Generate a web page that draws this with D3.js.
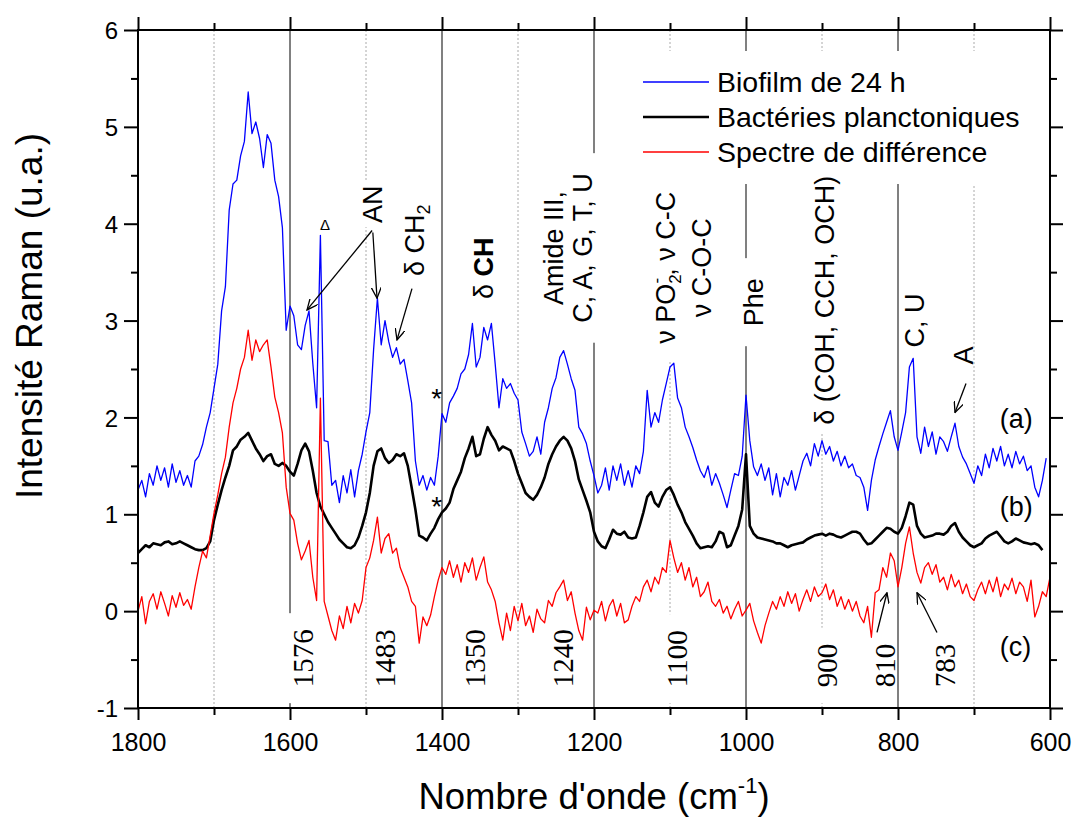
<!DOCTYPE html>
<html><head><meta charset="utf-8">
<script src="https://cdn.jsdelivr.net/npm/d3@7"></script>
<style>body{margin:0;background:#fff} svg{display:block}</style>
</head><body><svg id="chart" width="1073" height="819"></svg>
<script>
// ---------------- data ----------------
const wnStart = 1800, wnStep = 5;   // spectra sampled every 5 cm-1 from 1800 downwards
const biofilm = [
1.25,1.35,1.18,1.42,1.30,1.50,1.35,1.48,1.28,1.52,
1.33,1.45,1.30,1.40,1.28,1.55,1.60,1.72,1.90,2.05,
2.30,2.55,3.10,3.35,4.14,4.41,4.45,4.70,4.85,5.36,
4.93,5.05,4.88,4.58,4.92,4.83,4.45,4.28,3.96,2.90,
3.15,3.05,2.75,2.70,2.95,3.10,2.56,2.10,3.88,1.76,
1.75,1.30,1.35,1.12,1.40,1.22,1.46,1.18,1.45,1.62,
1.85,2.05,2.70,3.23,2.75,3.00,2.78,2.62,2.72,2.55,
2.60,2.38,2.15,1.55,1.30,1.40,1.25,1.38,1.30,1.60,
2.04,1.95,2.15,2.22,2.30,2.45,2.50,2.65,2.97,2.52,
2.62,2.93,2.80,2.97,2.55,2.10,2.40,2.30,2.35,2.25,
2.18,1.85,1.73,1.60,1.65,1.80,1.62,1.95,2.10,2.30,
2.41,2.62,2.69,2.55,2.40,2.28,1.90,1.83,1.73,1.55,
1.40,1.22,1.30,1.48,1.25,1.50,1.35,1.52,1.30,1.45,
1.28,1.50,1.42,1.65,2.28,1.90,2.05,1.95,2.18,2.35,
2.52,2.56,2.20,2.10,1.90,1.80,1.69,1.56,1.45,1.38,
1.50,1.30,1.42,1.32,1.20,1.07,1.25,1.42,1.40,1.60,
2.23,1.76,1.49,1.40,1.52,1.35,1.48,1.20,1.42,1.18,
1.38,1.30,1.45,1.25,1.40,1.55,1.63,1.50,1.73,1.60,
1.76,1.62,1.70,1.55,1.65,1.50,1.60,1.48,1.52,1.40,
1.38,1.28,1.04,1.35,1.56,1.70,1.83,1.95,2.07,1.80,
1.66,1.85,2.05,2.52,2.61,1.80,1.63,1.90,1.70,1.85,
1.62,1.80,1.75,1.65,1.80,1.94,1.70,1.59,1.52,1.42,
1.32,1.50,1.40,1.62,1.48,1.68,1.55,1.70,1.50,1.62,
1.48,1.65,1.52,1.60,1.45,1.50,1.28,1.18,1.35,1.58];
const planktonic = [
0.60,0.64,0.68,0.66,0.70,0.69,0.68,0.71,0.72,0.69,
0.70,0.72,0.70,0.68,0.66,0.64,0.63,0.63,0.65,0.72,
0.94,1.10,1.25,1.38,1.50,1.66,1.70,1.77,1.80,1.84,
1.76,1.68,1.62,1.55,1.60,1.62,1.52,1.50,1.53,1.50,
1.44,1.40,1.52,1.66,1.73,1.65,1.45,1.22,1.08,1.00,
0.92,0.86,0.80,0.74,0.70,0.66,0.65,0.68,0.76,0.88,
1.02,1.22,1.50,1.65,1.68,1.58,1.53,1.56,1.62,1.60,
1.63,1.50,1.28,1.05,0.78,0.76,0.73,0.80,0.86,0.95,
1.02,1.06,1.12,1.26,1.35,1.44,1.58,1.68,1.80,1.60,
1.62,1.78,1.90,1.82,1.76,1.66,1.70,1.68,1.66,1.55,
1.42,1.32,1.22,1.18,1.15,1.20,1.28,1.38,1.52,1.62,
1.70,1.76,1.80,1.76,1.68,1.55,1.36,1.25,1.14,1.02,
0.82,0.72,0.67,0.65,0.74,0.84,0.80,0.79,0.82,0.76,
0.75,0.76,0.88,1.02,1.18,1.23,1.12,1.08,1.18,1.25,
1.28,1.20,1.10,1.02,0.92,0.85,0.78,0.70,0.65,0.66,
0.67,0.66,0.72,0.82,0.80,0.66,0.68,0.78,0.88,1.05,
1.62,0.88,0.80,0.76,0.75,0.74,0.73,0.72,0.70,0.70,
0.68,0.66,0.68,0.69,0.70,0.71,0.74,0.76,0.78,0.79,
0.80,0.78,0.80,0.79,0.77,0.76,0.78,0.80,0.82,0.82,
0.80,0.74,0.69,0.70,0.74,0.78,0.82,0.86,0.85,0.82,
0.80,0.86,0.98,1.12,1.10,0.88,0.80,0.76,0.77,0.78,
0.80,0.80,0.79,0.82,0.88,0.91,0.82,0.76,0.72,0.68,
0.66,0.68,0.70,0.75,0.78,0.80,0.82,0.77,0.72,0.70,
0.72,0.75,0.73,0.71,0.70,0.69,0.70,0.68,0.63];
const difference = [
0.00,0.15,-0.13,0.10,0.18,0.02,0.20,0.08,-0.05,0.16,
0.04,0.19,0.06,0.12,0.02,0.25,0.45,0.62,0.55,0.78,
1.01,1.20,1.42,1.59,1.90,2.15,2.30,2.50,2.62,2.90,
2.59,2.80,2.68,2.75,2.80,2.52,2.21,2.05,1.84,1.28,
1.01,0.94,0.70,0.53,0.62,0.73,0.35,0.11,2.20,0.10,
-0.05,-0.20,-0.30,-0.05,-0.18,0.05,-0.12,0.08,-0.02,0.11,
0.45,0.55,0.73,0.97,0.60,0.75,0.80,0.60,0.65,0.45,
0.35,0.25,0.10,0.05,-0.33,-0.06,-0.15,-0.04,0.15,0.32,
0.45,0.38,0.52,0.35,0.48,0.30,0.50,0.40,0.55,0.32,
0.45,0.56,0.30,0.22,0.10,-0.12,-0.30,-0.02,-0.20,0.05,
-0.10,0.08,-0.15,-0.05,-0.22,0.02,-0.08,-0.12,0.11,0.05,
0.19,0.25,0.32,0.11,0.20,-0.02,-0.20,-0.30,0.04,-0.09,
0.01,-0.02,0.10,-0.10,0.05,0.12,-0.05,0.08,-0.12,-0.09,
0.05,0.15,0.10,0.25,0.32,0.20,0.35,0.28,0.45,0.40,
0.73,0.55,0.40,0.50,0.32,0.45,0.25,0.35,0.15,0.20,
0.30,0.10,0.05,0.12,-0.02,0.05,-0.08,0.02,0.10,-0.05,
0.01,0.08,-0.10,-0.22,-0.33,-0.15,-0.02,0.10,0.02,0.15,
0.05,0.20,0.08,0.18,0.00,0.12,0.22,0.10,0.25,0.15,
0.19,0.28,0.12,0.22,0.05,0.15,0.02,0.12,0.00,0.10,
-0.05,-0.12,0.05,-0.27,0.19,0.22,0.45,0.35,0.60,0.52,
0.25,0.45,0.70,0.87,0.60,0.40,0.29,0.45,0.50,0.38,
0.48,0.30,0.35,0.22,0.38,0.25,0.32,0.18,0.28,0.15,
0.11,0.22,0.30,0.18,0.32,0.20,0.35,0.15,0.28,0.22,
0.34,0.18,0.30,0.25,0.10,0.32,-0.06,0.05,0.20,0.15,
0.35];

const seriesNames  = ["Biofilm de 24 h", "Bactéries planctoniques", "Spectre de différence"];
const seriesColors = ["#0000ff", "#000000", "#ff0000"];
const seriesWidths = [1.3, 2.6, 1.3];

const xMajorTicks = [1800, 1600, 1400, 1200, 1000, 800, 600];
const xMinorTicks = [1700, 1500, 1300, 1100, 900, 700];
const yMajorTicks = [-1, 0, 1, 2, 3, 4, 5, 6];
const yMinorTicks = [-0.5, 0.5, 1.5, 2.5, 3.5, 4.5, 5.5];
const solidRefLines  = [1600, 1400, 1200, 1000, 800];
const dottedRefLines = [1700, 1500, 1300, 1100, 900, 700];

// peak position labels (serif, rotated)
const peakLabels = [
  {t: "1576", wn: 1570}, {t: "1483", wn: 1462}, {t: "1350", wn: 1343}, {t: "1240", wn: 1228},
  {t: "1100", wn: 1078}, {t: "900", wn: 880}, {t: "810", wn: 804}, {t: "783", wn: 725}
];
const peakLabelsKnock = ["1576", "1100", "900"];

// ---------------- layout ----------------
const FONT = "'Liberation Sans', Arial, Helvetica, sans-serif";
const SERIF = "'Liberation Serif', 'Times New Roman', Times, serif";
const svg = d3.select("#chart");
svg.append("rect").attr("width", 1073).attr("height", 819).attr("fill", "#fff");

const x = d3.scaleLinear().domain([1800, 600]).range([138, 1050]);
const y = d3.scaleLinear().domain([-1, 6]).range([708, 30]);

const gridL  = svg.append("g");
const knockL = svg.append("g");
const dataL  = svg.append("g");
const axisL  = svg.append("g");
const labelL = svg.append("g");

// reference lines
gridL.selectAll(".sref").data(solidRefLines).join("line")
  .attr("x1", d => x(d)).attr("x2", d => x(d)).attr("y1", y(6)).attr("y2", y(-1))
  .attr("stroke", "#4a4a4a").attr("stroke-width", 1.4);
gridL.selectAll(".dref").data(dottedRefLines).join("line")
  .attr("x1", d => x(d)).attr("x2", d => x(d)).attr("y1", y(6)).attr("y2", y(-1))
  .attr("stroke", "#aaaaaa").attr("stroke-width", 1).attr("stroke-dasharray", "2,2");

// series
const toPts = arr => arr.map((v, i) => [wnStart - i * wnStep, v]);
const line = d3.line().x(d => x(d[0])).y(d => y(d[1]));
[biofilm, planktonic, difference].forEach((arr, k) => {
  dataL.append("path").datum(toPts(arr)).attr("d", line)
    .attr("fill", "none").attr("stroke", seriesColors[k])
    .attr("stroke-width", seriesWidths[k]).attr("stroke-linejoin", "round");
});

// axes
const hyphenFmt = d => (d < 0 ? "-" + Math.abs(d) : String(d));
function styleAxis(g) {
  g.select(".domain").remove();
  g.selectAll("line").attr("stroke", "#000").attr("stroke-width", 2);
  g.attr("font-family", FONT);
}
axisL.append("g").attr("transform", `translate(0,${y(-1)})`)
  .call(d3.axisBottom(x).tickValues(xMajorTicks).tickSize(12).tickFormat(hyphenFmt))
  .call(styleAxis)
  .call(g => g.selectAll("text").attr("y", 43).attr("dy", "0").attr("font-size", 25).attr("fill", "#000"));
axisL.append("g").attr("transform", `translate(0,${y(-1)})`)
  .call(d3.axisBottom(x).tickValues(xMinorTicks).tickSize(7).tickFormat(""))
  .call(styleAxis);
axisL.append("g").attr("transform", `translate(0,${y(6)})`)
  .call(d3.axisTop(x).tickValues(xMajorTicks).tickSize(13).tickFormat(""))
  .call(styleAxis);
axisL.append("g").attr("transform", `translate(0,${y(6)})`)
  .call(d3.axisTop(x).tickValues(xMinorTicks).tickSize(7).tickFormat(""))
  .call(styleAxis);
axisL.append("g").attr("transform", `translate(${x(1800)},0)`)
  .call(d3.axisLeft(y).tickValues(yMajorTicks).tickSize(14).tickPadding(6).tickFormat(hyphenFmt))
  .call(styleAxis)
  .call(g => g.selectAll("text").attr("font-size", 24).attr("fill", "#000").attr("dy", "0.36em"));
axisL.append("g").attr("transform", `translate(${x(1800)},0)`)
  .call(d3.axisLeft(y).tickValues(yMinorTicks).tickSize(7).tickFormat(""))
  .call(styleAxis);
axisL.append("g").attr("transform", `translate(${x(600)},0)`)
  .call(d3.axisRight(y).tickValues(yMajorTicks).tickSize(13).tickFormat(""))
  .call(styleAxis);
axisL.append("g").attr("transform", `translate(${x(600)},0)`)
  .call(d3.axisRight(y).tickValues(yMinorTicks).tickSize(7).tickFormat(""))
  .call(styleAxis);
axisL.append("rect").attr("x", x(1800)).attr("y", y(6))
  .attr("width", x(600) - x(1800)).attr("height", y(-1) - y(6))
  .attr("fill", "none").attr("stroke", "#000").attr("stroke-width", 2);

// axis titles
const xt = labelL.append("text").attr("x", (x(1800) + x(600)) / 2).attr("y", 809)
  .attr("text-anchor", "middle").attr("font-family", FONT).attr("font-size", 36.5);
xt.append("tspan").text("Nombre d'onde (cm");
xt.append("tspan").text("-1").attr("font-size", 22).attr("dy", -16);
xt.append("tspan").text(")").attr("dy", 16);
labelL.append("text").attr("transform", `translate(42,${(y(6) + y(-1)) / 2 - 53}) rotate(-90)`)
  .attr("text-anchor", "middle").attr("font-family", FONT).attr("font-size", 37)
  .text("Intensité Raman (u.a.)");

// legend
const legendY = [82, 117, 152];
knockL.append("rect").attr("x", 632).attr("y", 51).attr("width", 410).attr("height", 133).attr("fill", "#fff");
seriesNames.forEach((n, k) => {
  labelL.append("line").attr("x1", 643).attr("x2", 709).attr("y1", legendY[k]).attr("y2", legendY[k])
    .attr("stroke", seriesColors[k]).attr("stroke-width", seriesWidths[k]);
  labelL.append("text").attr("x", 717).attr("y", legendY[k] + 9.5)
    .attr("font-family", FONT).attr("font-size", 28.5).text(n);
});

// ---------------- annotations ----------------
const FS = 27;
function knockout(t, pad) {
  const b = t.node().getBBox();
  knockL.append("rect").attr("transform", t.attr("transform"))
    .attr("x", b.x - pad).attr("y", b.y).attr("width", b.width + 2 * pad).attr("height", b.height)
    .attr("fill", "#fff");
}
function rotText(wn, v, anchor, font, size) {
  return labelL.append("text")
    .attr("transform", `translate(${x(wn)},${y(v)}) rotate(-90)`)
    .attr("text-anchor", anchor).attr("font-family", font).attr("font-size", size);
}
// AN
let t = rotText(1479, 4.20, "middle", FONT, FS).text("AN"); knockout(t, 4);
// δ CH2
t = rotText(1424, 3.83, "middle", FONT, FS);
t.append("tspan").text("δ CH");
t.append("tspan").text("2").attr("font-size", 18).attr("dy", 6);
// δ CH (bold CH)
t = rotText(1333, 3.54, "middle", FONT, FS);
t.append("tspan").text("δ ");
t.append("tspan").text("CH").attr("font-weight", "bold");
// Amide III block
t = rotText(1241, 3.75, "middle", FONT, FS).text("Amide III,"); knockout(t, 18);
t = rotText(1203, 3.75, "middle", FONT, FS).text("C, A, G, T, U"); knockout(t, 20);
// ν PO2-, ν C-C / ν C-O-C
t = rotText(1094, 3.545, "middle", FONT, FS);
t.append("tspan").text("ν PO");
t.append("tspan").text("2").attr("font-size", 17).attr("dy", 6);
t.append("tspan").text("-").attr("font-size", 17).attr("dx", -9).attr("dy", -19);
t.append("tspan").text(", ν C-C").attr("dy", 13).attr("dx", 2);
knockout(t, 18);
t = rotText(1046, 3.545, "middle", FONT, FS).text("ν C-O-C");
// Phe
t = rotText(977.6, 3.19, "middle", FONT, FS).text("Phe"); knockout(t, 20);
// δ (COH, CCH, OCH)
t = rotText(884, 3.21, "middle", FONT, FS).text("δ (COH, CCH, OCH)"); knockout(t, 8);
// C, U
t = rotText(766, 3.0, "middle", FONT, FS).text("C, U");
// A
t = rotText(701, 2.64, "middle", FONT, FS).text("A");
// (a) (b) (c)
[["(a)", 1.89], ["(b)", 0.98], ["(c)", -0.46]].forEach(([s, v]) => {
  labelL.append("text").attr("x", x(666)).attr("y", y(v)).attr("font-family", FONT)
    .attr("font-size", FS).text(s);
});
// Δ over the spike
labelL.append("text").attr("x", x(1554)).attr("y", y(3.93)).attr("text-anchor", "middle")
  .attr("font-family", FONT).attr("font-size", 15).text("Δ");
// asterisks
[2.10, 0.98].forEach(v => {
  labelL.append("text").attr("x", x(1407)).attr("y", y(v)).attr("text-anchor", "middle")
    .attr("font-family", FONT).attr("font-size", 28).text("*");
});
// peak wavenumber labels
peakLabels.forEach(p => {
  const tt = rotText(p.wn, -0.785, "start", SERIF, 29).text(p.t);
  if (peakLabelsKnock.includes(p.t)) knockout(tt, 16);
});

// arrows
const defs = svg.append("defs");
defs.append("marker").attr("id", "ah").attr("viewBox", "0 0 12 10")
  .attr("refX", 11).attr("refY", 5).attr("markerWidth", 12).attr("markerHeight", 10)
  .attr("markerUnits", "userSpaceOnUse").attr("orient", "auto")
  .append("path").attr("d", "M0,0 L11,5 L0,10").attr("fill", "none").attr("stroke", "#000").attr("stroke-width", 1.3);
const arrows = [
  [[1492, 3.93], [1577.6, 3.11]],
  [[1491, 3.91], [1485.5, 3.23]],
  [[1439.5, 3.33], [1459.2, 2.80]],
  [[710.5, 2.35], [725, 2.05]],
  [[827.6, -0.22], [814.5, 0.19]],
  [[748.7, -0.22], [775, 0.19]]
];
arrows.forEach(([a, b]) => {
  labelL.append("line").attr("x1", x(a[0])).attr("y1", y(a[1])).attr("x2", x(b[0])).attr("y2", y(b[1]))
    .attr("stroke", "#000").attr("stroke-width", 1.3).attr("marker-end", "url(#ah)");
});
</script></body></html>
